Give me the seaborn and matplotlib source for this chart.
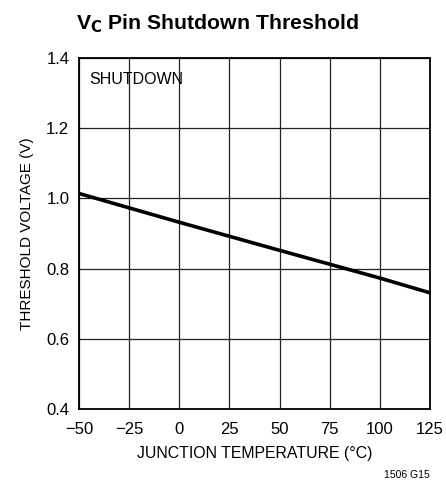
import matplotlib
matplotlib.use("Agg")
import matplotlib.pyplot as plt
import seaborn as sns
import pandas as pd
from matplotlib import font_manager

# values
temperature = [-50, 0, 50, 100, 125]
threshold_v = [1.014, 0.932, 0.852, 0.773, 0.731]
x_ticks = [-50, -25, 0, 25, 50, 75, 100, 125]
x_tick_labels = ["\u221250", "\u221225", "0", "25", "50", "75", "100", "125"]
y_ticks = [0.4, 0.6, 0.8, 1.0, 1.2, 1.4]
y_tick_labels = ["0.4", "0.6", "0.8", "1.0", "1.2", "1.4"]

sns.set_style("white")
names = {f.name for f in font_manager.fontManager.ttflist}
narrow = "Liberation Sans Narrow" if "Liberation Sans Narrow" in names else "Liberation Sans"
plt.rcParams["font.family"] = [narrow, "DejaVu Sans"]
plt.rcParams["text.color"] = "black"
plt.rcParams["axes.labelcolor"] = "black"
plt.rcParams["xtick.color"] = "black"
plt.rcParams["ytick.color"] = "black"

df = pd.DataFrame({"temp": temperature, "volt": threshold_v})

fig = plt.figure(figsize=(4.46, 4.94), dpi=100)
ax = fig.add_axes([79 / 446, 1 - 409 / 494, 351 / 446, 351 / 494])

sns.lineplot(data=df, x="temp", y="volt", ax=ax, color="black", linewidth=2.6)

ax.set_xlim(-50, 125)
ax.set_ylim(0.4, 1.4)
ax.set_xticks(x_ticks)
ax.set_xticklabels(x_tick_labels, fontsize=12)
ax.set_yticks(y_ticks)
ax.set_yticklabels(y_tick_labels, fontsize=12)
ax.tick_params(axis="x", length=0, pad=9)
ax.tick_params(axis="y", length=0, pad=7)
ax.grid(True, color="#222222", linewidth=0.9)
for s in ax.spines.values():
    s.set_visible(True)
    s.set_color("black")
    s.set_linewidth(1.3)

ax.set_xlabel("JUNCTION TEMPERATURE (\u00b0C)", fontsize=11.4, labelpad=7)
ax.set_ylabel("THRESHOLD VOLTAGE (V)", fontsize=11, labelpad=9)

ax.text(-45, 1.34, "SHUTDOWN", fontsize=11.5, va="center", ha="left")

fig.text(217 / 446, 1 - 24 / 494, r"V$_\mathbf{C}$ Pin Shutdown Threshold",
         fontsize=15.3, fontweight="bold", ha="center", va="center")
fig.text(430 / 446, 1 - 475 / 494, "1506 G15", fontsize=7.5, ha="right", va="center")

fig.savefig("out.png", dpi=100)
